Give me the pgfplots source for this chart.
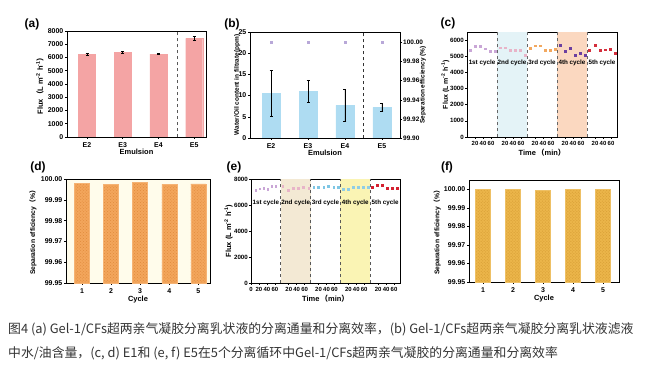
\documentclass[border=0pt]{standalone}
\usepackage{fontspec}
\setmainfont{Liberation Sans}
\newfontfamily\cjk{Noto Sans CJK SC}
\usepackage{pgfplots}
\pgfplotsset{compat=1.18}
\usetikzlibrary{patterns}

\definecolor{apink}{HTML}{F4A4A4}
\definecolor{bblue}{HTML}{AEDCF2}
\definecolor{bdot}{HTML}{B8A8D8}
\definecolor{cshA}{HTML}{E4F3F7}
\definecolor{cshB}{HTML}{FBD8C0}
\definecolor{cA}{HTML}{C9A6D6}
\definecolor{cB}{HTML}{E8B4C8}
\definecolor{cC}{HTML}{F2A860}
\definecolor{cD}{HTML}{6B3FA0}
\definecolor{cE}{HTML}{D42E3C}
\definecolor{dbg}{HTML}{FFFCEB}
\definecolor{dbar}{HTML}{F3A65C}
\definecolor{dpat}{HTML}{E08A3C}
\definecolor{eshA}{HTML}{F3E9D4}
\definecolor{eshB}{HTML}{FAF4B4}
\definecolor{eC}{HTML}{7FC6E4}
\definecolor{eD}{HTML}{8FCDE6}
\definecolor{eE}{HTML}{D42030}
\definecolor{fbar}{HTML}{EBB54A}
\definecolor{fpat}{HTML}{D49A30}
\definecolor{capc}{HTML}{333333}

\tikzset{cyctext/.style={font=\fontsize{6.3}{7}\selectfont\bfseries}}

\pgfplotsset{
  panel/.style={
    scale only axis, anchor=south west,
    axis line style={line width=0.7pt},
    tick style={black, line width=0.6pt},
    tick align=outside, major tick length=2pt,
    xtick pos=bottom, ytick pos=left,
    tick label style={font=\fontsize{7}{8}\selectfont\bfseries},
    label style={font=\fontsize{7.5}{8}\selectfont\bfseries},
    /pgf/number format/assume math mode=true,
    scaled y ticks=false,
    yticklabel style={/pgf/number format/1000 sep={}, inner xsep=1.5pt},
    clip=true,
  },
  cycpanel/.style={
    panel, xmin=0, xmax=375,
    xtick={20,40,60,95,115,135,170,190,210,245,265,285,320,340,360},
    xticklabels={20,40,60,20,40,60,20,40,60,20,40,60,20,40,60},
    xticklabel style={font=\fontsize{6}{7}\selectfont\bfseries, inner xsep=0pt, inner ysep=2pt},
    yticklabel style={font=\fontsize{6.2}{7}\selectfont\bfseries, inner xsep=1pt},
    xlabel={Time\,{\cjk （}min{\cjk ）}},
    xlabel style={inner ysep=1pt},
  },
}

\begin{document}
\begin{tikzpicture}[x=1bp,y=1bp]
\path[use as bounding box] (0,0) rectangle (645,370);

% ---------- (a) ----------
\begin{axis}[panel, at={(67bp,233bp)}, width=139bp, height=106bp,
  xmin=0.44, xmax=4.33, ymin=0, ymax=8000,
  ytick={0,1000,2000,3000,4000,5000,6000,7000,8000},
  xtick={1,2,3,4}, xticklabels={E2,E3,E4,E5},
  xlabel={Emulsion}, xlabel style={yshift=5pt},
  ylabel={Flux{\cjk （}L m\textsuperscript{-2} h\textsuperscript{-1}{\cjk ）}},
  ylabel style={at={(axis description cs:-0.195,0.5)}, anchor=center}]
\addplot[ybar, bar width=17bp, fill=apink, draw=apink,
  error bars/.cd, y dir=both, y explicit,
  error bar style={black, line width=0.6pt},
  error mark options={rotate=90, mark size=1.5pt, black, line width=0.6pt}]
  coordinates {(1,6250) +- (0,80) (2,6400) +- (0,70) (3,6260) +- (0,40) (4,7450) +- (0,150)};
\addplot[dashed, black!65, line width=0.8pt] coordinates {(3.53,0) (3.53,8000)};
\end{axis}
\node[font=\fontsize{12}{13}\selectfont\bfseries] at (32,346) {(a)};

% ---------- (b) ----------
\begin{axis}[panel, at={(250bp,232bp)}, width=150bp, height=106bp,
  xmin=0.43, xmax=4.49, ymin=0, ymax=25,
  ytick={0,5,10,15,20,25},
  xtick={1,2,3,4}, xticklabels={E2,E3,E4,E5},
  xlabel={Emulsion}, xlabel style={yshift=5pt},
  ylabel={Water/Oil content in filtrate(ppm)},
  ylabel style={font=\fontsize{6.5}{7}\selectfont\bfseries, at={(axis description cs:-0.085,0.5)}, anchor=center}]
\addplot[ybar, bar width=18bp, fill=bblue, draw=bblue,
  error bars/.cd, y dir=both, y explicit,
  error bar style={black, line width=0.6pt},
  error mark options={rotate=90, mark size=1.5pt, black, line width=0.6pt}]
  coordinates {(1,10.5) +- (0,5.4) (2,11.0) +- (0,2.6) (3,7.7) +- (0,3.8) (4,7.2) +- (0,1.0)};
\addplot[dashed, black!80, line width=0.8pt] coordinates {(3.51,0) (3.51,25)};
\end{axis}
\begin{axis}[panel, at={(250bp,232bp)}, width=150bp, height=106bp,
  xmin=0.43, xmax=4.49, ymin=99.90, ymax=100.011,
  axis x line=none, axis y line*=right, ytick pos=right,
  ytick={99.90,99.92,99.94,99.96,99.98,100.00},
  yticklabel style={font=\fontsize{6.5}{7}\selectfont\bfseries, inner xsep=1pt, /pgf/number format/.cd, fixed, fixed zerofill, precision=2}]
\addplot[only marks, mark=square*, mark size=1.1pt, color=bdot]
  coordinates {(1,100.00) (2,100.00) (3,100.00) (4,100.00)};
\end{axis}
\node[rotate=90, font=\fontsize{6.5}{7}\selectfont\bfseries] at (423,285) {Separation efficiency (\%)};
\node[font=\fontsize{12}{13}\selectfont\bfseries] at (232,346) {(b)};

% ---------- (c) ----------
\begin{axis}[cycpanel, at={(467bp,233bp)}, width=150bp, height=105bp,
  ymin=0, ymax=6500, ytick={0,1000,2000,3000,4000,5000,6000},
  ylabel={Flux (L m\textsuperscript{-2} h\textsuperscript{-1})},
  ylabel style={font=\fontsize{7}{8}\selectfont\bfseries, at={(axis description cs:-0.145,0.5)}, anchor=center}]
\addplot[fill=cshA, draw=none] coordinates {(75,0) (150,0) (150,6500) (75,6500)} -- cycle;
\addplot[fill=cshB, draw=none] coordinates {(225,0) (300,0) (300,6500) (225,6500)} -- cycle;
\addplot[dashed, black!60, line width=0.7pt] coordinates {(75,0) (75,6500)};
\addplot[dashed, black!60, line width=0.7pt] coordinates {(150,0) (150,6500)};
\addplot[dashed, black!60, line width=0.7pt] coordinates {(225,0) (225,6500)};
\addplot[dashed, black!60, line width=0.7pt] coordinates {(300,0) (300,6500)};
\addplot[only marks, mark=square*, mark size=0.9pt, color=cA] coordinates {(8,5370) (20,5640) (33,5640) (45,5470) (58,5330) (70,5330)};
\addplot[only marks, mark=square*, mark size=0.9pt, color=cB] coordinates {(83,5530) (95,5530) (108,5370) (120,5370) (133,5370) (145,5060)};
\addplot[only marks, mark=square*, mark size=0.9pt, color=cC] coordinates {(158,5500) (170,5650) (183,5650) (195,5350) (208,5350) (220,5450)};
\addplot[only marks, mark=square*, mark size=0.9pt, color=cD] coordinates {(233,5670) (245,5320) (258,5500) (270,5060) (283,5200) (295,5060)};
\addplot[only marks, mark=square*, mark size=0.9pt, color=cE] coordinates {(305,5350) (320,5670) (333,5350) (345,5400) (358,5450) (370,5200)};
\node[cyctext] at (axis cs:37.5,4600) {1st cycle};
\node[cyctext] at (axis cs:112.5,4600) {2nd cycle};
\node[cyctext] at (axis cs:187.5,4600) {3rd cycle};
\node[cyctext] at (axis cs:262.5,4600) {4th cycle};
\node[cyctext] at (axis cs:337.5,4600) {5th cycle};
\end{axis}
\node[font=\fontsize{12}{13}\selectfont\bfseries] at (448,347) {(c)};

% ---------- (d) ----------
\begin{axis}[panel, at={(66bp,87bp)}, width=144bp, height=104bp,
  axis background/.style={fill=dbg},
  xmin=0.45, xmax=5.4, ymin=0, ymax=0.05,
  y filter/.expression={y-99.95},
  ytick={0,0.01,0.02,0.03,0.04,0.05},
  yticklabels={99.95,99.96,99.97,99.98,99.99,100.00},
  xtick={1,2,3,4,5},
  xlabel={Cycle}, xlabel style={yshift=4pt},
  ylabel={Separation efficiency{\cjk （}\%{\cjk ）}},
  ylabel style={font=\fontsize{6.8}{7}\selectfont\bfseries, at={(axis description cs:-0.23,0.5)}, anchor=center}]
\addplot[ybar, bar width=15bp, fill=dbar, draw=dbar!85!white,
  postaction={pattern=crosshatch dots, pattern color=dpat}]
  coordinates {(1,99.998) (2,99.9973) (3,99.9985) (4,99.9973) (5,99.9977)};
\end{axis}
\node[font=\fontsize{12}{13}\selectfont\bfseries] at (38,203) {(d)};

% ---------- (e) ----------
\begin{axis}[cycpanel, at={(251bp,87bp)}, width=149bp, height=104bp,
  xtick={0,20,40,60,95,115,135,170,190,210,245,265,285,320,340,360},
  xticklabels={0,20,40,60,20,40,60,20,40,60,20,40,60,20,40,60},
  ymin=0, ymax=8000, ytick={0,2000,4000,6000,8000},
  ylabel={Flux (L m\textsuperscript{-2} h\textsuperscript{-1})},
  ylabel style={at={(axis description cs:-0.15,0.5)}, anchor=center}]
\addplot[fill=eshA, draw=none] coordinates {(75,0) (150,0) (150,8000) (75,8000)} -- cycle;
\addplot[fill=eshB, draw=none] coordinates {(225,0) (300,0) (300,8000) (225,8000)} -- cycle;
\addplot[dashed, black!65, line width=0.7pt] coordinates {(75,0) (75,8000)};
\addplot[dashed, black!65, line width=0.7pt] coordinates {(150,0) (150,8000)};
\addplot[dashed, black!65, line width=0.7pt] coordinates {(225,0) (225,8000)};
\addplot[dashed, black!65, line width=0.7pt] coordinates {(300,0) (300,8000)};
\addplot[only marks, mark=square*, mark size=0.9pt, color=cA] coordinates {(12,7150) (22,7250) (32,7300) (42,7200) (52,7450) (62,7450)};
\addplot[only marks, mark=square*, mark size=0.9pt, color=cB] coordinates {(80,7450) (93,7150) (106,7300) (119,7300) (132,7400) (145,7300)};
\addplot[only marks, mark=square*, mark size=0.9pt, color=eC] coordinates {(158,7350) (170,7350) (183,7400) (195,7450) (208,7350) (220,7350)};
\addplot[only marks, mark=square*, mark size=0.9pt, color=eD] coordinates {(233,7200) (245,7200) (258,7350) (270,7350) (283,7350) (295,7350)};
\addplot[only marks, mark=square*, mark size=0.9pt, color=eE] coordinates {(305,7350) (317,7500) (330,7500) (342,7300) (355,7300) (368,7300)};
\node[cyctext] at (axis cs:37.5,6150) {1st cycle};
\node[cyctext] at (axis cs:112.5,6150) {2nd cycle};
\node[cyctext] at (axis cs:187.5,6150) {3rd cycle};
\node[cyctext] at (axis cs:262.5,6150) {4th cycle};
\node[cyctext] at (axis cs:337.5,6150) {5th cycle};
\end{axis}
\node[font=\fontsize{12}{13}\selectfont\bfseries] at (234,203) {(e)};

% ---------- (f) ----------
\begin{axis}[panel, at={(469bp,88bp)}, width=150bp, height=102bp,
  xmin=0.53, xmax=5.53, ymin=0, ymax=0.055,
  y filter/.expression={y-99.95},
  ytick={0,0.01,0.02,0.03,0.04,0.05},
  yticklabels={99.95,99.96,99.97,99.98,99.99,100.00},
  xtick={1,2,3,4,5},
  xlabel={Cycle}, xlabel style={yshift=4pt},
  ylabel={Separation efficiency{\cjk （}\%{\cjk ）}},
  ylabel style={font=\fontsize{6.8}{7}\selectfont\bfseries, at={(axis description cs:-0.213,0.5)}, anchor=center}]
\addplot[ybar, bar width=15bp, fill=fbar, draw=fbar!85!white,
  postaction={pattern=crosshatch dots, pattern color=fpat}]
  coordinates {(1,99.9998) (2,99.9998) (3,99.9995) (4,100.0000) (5,100.0000)};
\end{axis}
\node[font=\fontsize{12}{13}\selectfont\bfseries] at (447,203) {(f)};

% ---------- caption ----------
\node[anchor=base west, inner sep=0pt, text=capc, font=\cjk\fontsize{12.9}{15}\selectfont] at (8,37)
  {图4 (a) Gel-1/CFs超两亲气凝胶分离乳状液的分离通量和分离效率，(b) Gel-1/CFs超两亲气凝胶分离乳状液滤液};
\node[anchor=base west, inner sep=0pt, text=capc, font=\cjk\fontsize{12.9}{15}\selectfont] at (8,13)
  {中水/油含量，(c, d) E1和 (e, f) E5在5个分离循环中Gel-1/CFs超两亲气凝胶的分离通量和分离效率};
\end{tikzpicture}
\end{document}
